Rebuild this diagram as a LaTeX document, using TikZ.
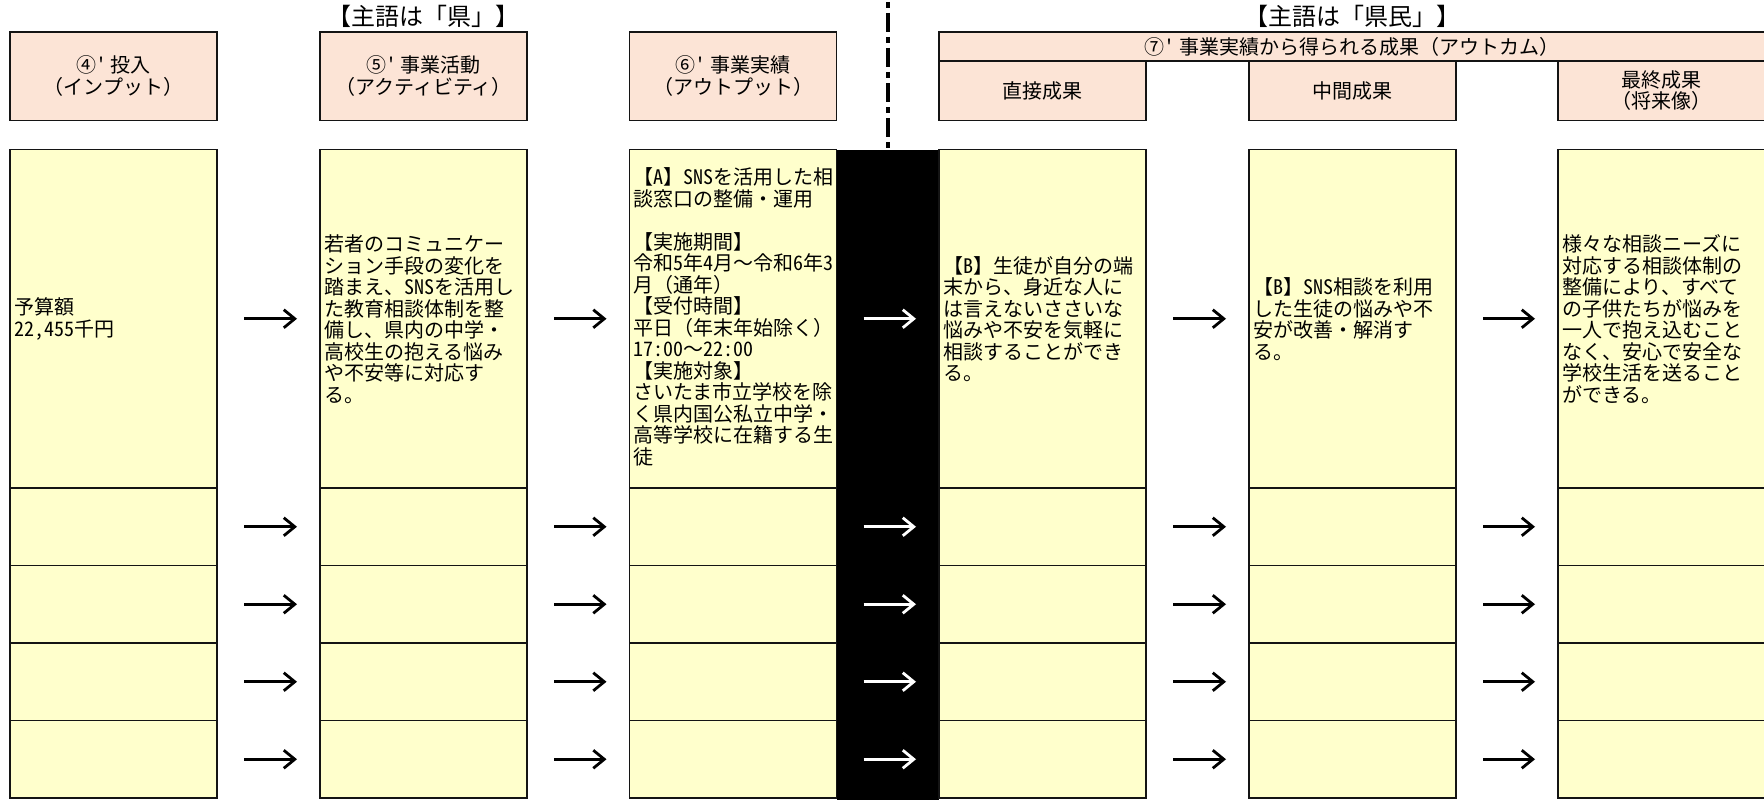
\documentclass[tikz,border=0pt]{standalone}
\usepackage{fontspec}
\newfontfamily\jp{Noto Sans CJK JP}
\newfontfamily\jh{Noto Sans CJK JP}[RawFeature=+hwid]
\newcommand\hw[1]{{\jh #1}}
\usetikzlibrary{arrows.meta}
\definecolor{hdr}{HTML}{FCE4D6}
\definecolor{cell}{HTML}{FFFFCC}
\begin{document}
\begin{tikzpicture}[x=1pt,y=-1pt,
  font=\jp\fontsize{20pt}{21.5pt}\selectfont,
  box/.style={draw=black!92,line width=1.4pt,inner sep=0pt,outer sep=0pt,anchor=north west,minimum width=207pt},
  hbox/.style={box,fill=hdr,align=center},
  cbox/.style={box,fill=cell},
  txt/.style={anchor=west,align=left,inner sep=0pt},
  arr/.style={line width=2.8pt,-{Straight Barb[length=11pt,width=18pt]},shorten <=27pt,shorten >=23pt},
  title/.style={font=\jp\fontsize{24pt}{26pt}\selectfont,inner sep=0pt},
  dashdot/.style={line width=4.5pt,dash pattern=on 6pt off 5pt on 19pt off 5pt,dash phase=33pt}]
\clip (0,0) rectangle (1764,800);
\fill[white] (0,0) rectangle (1764,800);

% titles
\node[title] (ttl1) at (423.5,16) {【主語は「県」】};
\node[title] (ttl2) at (1352,16) {【主語は「県民」】};

% dash-dot separator
\coordinate (dtop) at (888,0);
\coordinate (dbot) at (888,149.5);
\draw[dashdot] (dtop) -- (dbot);

% black column
\fill[black] (836.5,149.5) rectangle (939,800);

% header boxes
\node[hbox,minimum height=88.5pt] (h1) at (10,32) {④\hw{'} 投入\\（インプット）};
\node[hbox,minimum height=88.5pt] (h2) at (320,32) {⑤\hw{'} 事業活動\\（アクティビティ）};
\node[hbox,minimum height=88.5pt] (h3) at (629.5,32) {⑥\hw{'} 事業実績\\（アウトプット）};
\node[hbox,minimum width=826pt,minimum height=29pt] (h7) at (939,32) {⑦\hw{'} 事業実績から得られる成果（アウトカム）};
\node[hbox,minimum height=59.5pt] (h4) at (939,61) {直接成果};
\node[hbox,minimum height=59.5pt] (h5) at (1249,61) {中間成果};
\node[hbox,minimum height=59.5pt] (h6) at (1558,61) {最終成果\\（将来像）};

% lower cells
\foreach \cx [count=\cc] in {10,320,629.5,939,1249,1558}{
  \node[cbox,minimum height=338.5pt] (r1-c\cc) at (\cx,149.5) {};
  \foreach \ry [count=\rr from 2] in {488,565.5,643,720.5}{
    \node[cbox,minimum height=77.5pt] (r\rr-c\cc) at (\cx,\ry) {};
  }
}

% texts
\node[txt] (t1) at (14,319) {予算額\\\hw{22,455}千円};
\node[txt] (t2) at (324,319) {若者のコミュニケー\\ション手段の変化を\\踏まえ、\hw{SNS}を活用し\\た教育相談体制を整\\備し、県内の中学・\\高校生の抱える悩み\\や不安等に対応す\\る。};
\node[txt] (t3) at (633,317) {【\hw{A}】\hw{SNS}を活用した相\\談窓口の整備・運用\\[21.5pt]【実施期間】\\令和\hw{5}年\hw{4}月～令和\hw{6}年\hw{3}\\月（通年）\\【受付時間】\\平日（年末年始除く）\\\hw{17:00}～\hw{22:00}\\【実施対象】\\さいたま市立学校を除\\く県内国公私立中学・\\高等学校に在籍する生\\徒};
\node[txt] (t4) at (943,319) {【\hw{B}】生徒が自分の端\\末から、身近な人に\\は言えないささいな\\悩みや不安を気軽に\\相談することができ\\る。};
\node[txt] (t5) at (1253,319) {【\hw{B}】\hw{SNS}相談を利用\\した生徒の悩みや不\\安が改善・解消す\\る。};
\node[txt] (t6) at (1562,319) {様々な相談ニーズに\\対応する相談体制の\\整備により、すべて\\の子供たちが悩みを\\一人で抱え込むこと\\なく、安心で安全な\\学校生活を送ること\\ができる。};

% arrows
\foreach \rr in {1,...,5}{
  \foreach \ca/\cb in {1/2,2/3,4/5,5/6}{
    \draw[arr] (r\rr-c\ca.east) -- (r\rr-c\cb.west);
  }
  \draw[arr,white] (r\rr-c3.east) -- (r\rr-c4.west);
}
\end{tikzpicture}
\end{document}
